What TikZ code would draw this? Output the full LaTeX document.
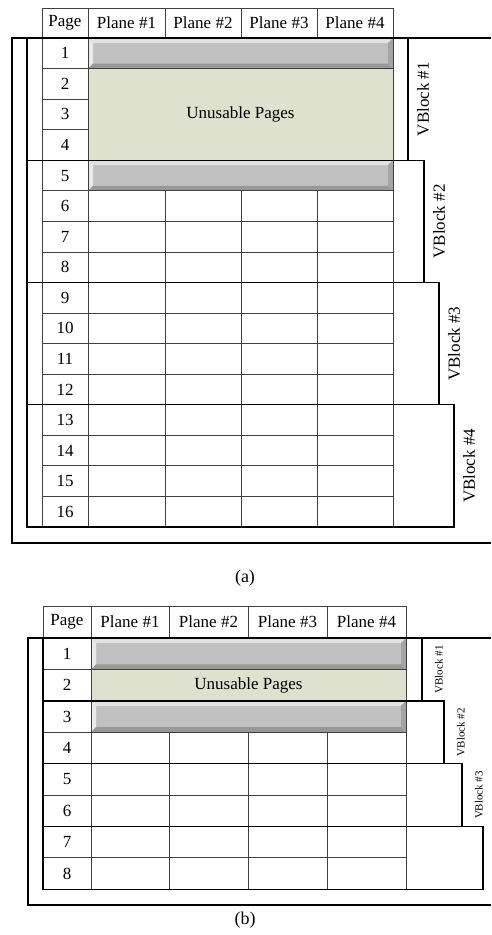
\documentclass[tikz,border=0pt]{standalone}
\usepackage{fontspec}
\setmainfont{Liberation Serif}
\usepackage{tikz}
\usetikzlibrary{positioning}
\definecolor{unusable}{RGB}{221,225,205}
\definecolor{barmid}{RGB}{192,192,192}
\definecolor{barlight}{RGB}{226,226,226}
\definecolor{barlighter}{RGB}{234,234,234}
\definecolor{bardark}{RGB}{152,152,152}
\definecolor{bardarker}{RGB}{164,164,164}
\tikzset{
  gridline/.style={
    line width=0.8pt,
    draw=black!75
  },
  blockbox/.style={
    line width=1.4pt,
    draw=black
  },
  outerbox/.style={
    line width=1.2pt,
    draw=black
  },
  cell/.style={
    font=\fontsize{17}{20}\selectfont,
    inner sep=0pt
  },
  vlabel/.style={
    font=\fontsize{17}{20}\selectfont,
    rotate=90,
    inner sep=0pt
  },
  vlabelsmall/.style={
    font=\fontsize{11}{13}\selectfont,
    rotate=90,
    inner sep=0pt
  },
  caption/.style={
    font=\fontsize{18}{20}\selectfont,
    inner sep=0pt
  }
}
% bevelled grey bar: x1, y1, x2, y2
\newcommand{\bevelbar}[4]{%
  \fill[barmid] (#1,#2) rectangle (#3,#4);
  \fill[barlight] (#1,#2) -- (#3,#2) -- (#3-5,#2+5) -- (#1+5,#2+5) -- cycle;
  \fill[barlighter] (#1,#2) -- (#1+5,#2+5) -- (#1+5,#4-5) -- (#1,#4) -- cycle;
  \fill[bardark] (#1,#4) -- (#3,#4) -- (#3-5,#4-5) -- (#1+5,#4-5) -- cycle;
  \fill[bardarker] (#3,#2) -- (#3,#4) -- (#3-5,#4-5) -- (#3-5,#2+5) -- cycle;
}

\begin{document}
\begin{tikzpicture}[x=1pt,y=-1pt]
        \useasboundingbox (0,0) rectangle (491,935);
        % ---------- (a) ----------
        \bevelbar{88}{38}{393}{68.56}
        \fill[unusable] (88,68.56) rectangle (393,160.24);
        \bevelbar{88}{160.24}{393}{190.8}
        \draw[gridline] (42,8) rectangle (393,38);
        \foreach \x in {88,165,241,317} \draw[gridline] (\x,8) -- (\x,38);
        \draw[gridline] (42,38) -- (42,527);
        \draw[gridline] (88,38) -- (88,527);
        \draw[gridline] (393,38) -- (393,527);
        \foreach \i in {1,...,15} \draw[gridline] (42,{38+30.56*\i}) -- (88,{38+30.56*\i});
        \draw[gridline] (88,68.56) -- (393,68.56);
        \foreach \i in {5,...,15} \draw[gridline] (88,{38+30.56*\i}) -- (393,{38+30.56*\i});
        \foreach \x in {165,241,317} \draw[gridline] (\x,190.8) -- (\x,527);
        \foreach \k/\r [count=\n] in {0/408,1/424,2/439,3/454} {
          \draw[blockbox] (27,{38+122.24*\k}) rectangle (\r,{38+122.24*(\k+1)});
          \node[vlabel] (avb\n) at (\r+15,{38+122.24*(\k+0.5)}) {VBlock \#\n};
        }
        \draw[outerbox] (491,38) -- (12,38) -- (12,543) -- (491,543);
        \node[cell] (apage) at (65,23) {Page};
        \foreach \c [count=\n] in {126.5,203,279,355} \node[cell] (aplane\n) at (\c,23) {Plane \#\n};
        \foreach \i in {1,...,16} \node[cell] (arow\i) at (65,{38+30.56*(\i-0.5)}) {\i};
        \node[cell] (aunusable) at (240.5,114.4) {Unusable Pages};
        \node[caption] (capa) at (245,578) {(a)};
        % ---------- (b) ----------
        \bevelbar{91}{638}{406}{669.4}
        \fill[unusable] (91,669.4) rectangle (406,700.8);
        \bevelbar{91}{700.8}{406}{732.2}
        \draw[gridline] (43,606) rectangle (406,638);
        \foreach \x in {91,169,248,327} \draw[gridline] (\x,606) -- (\x,638);
        \draw[gridline] (91,638) -- (91,889);
        \draw[gridline] (406,638) -- (406,889);
        \foreach \i in {1,...,7} \draw[gridline] (43,{638+31.4*\i}) -- (91,{638+31.4*\i});
        \draw[gridline] (91,669.4) -- (406,669.4);
        \foreach \i in {3,...,7} \draw[gridline] (91,{638+31.4*\i}) -- (406,{638+31.4*\i});
        \foreach \x in {169,248,327} \draw[gridline] (\x,732.2) -- (\x,889);
        \foreach \k/\r in {0/422,1/444,2/462,3/483}
          \draw[blockbox] (43,{638+62.8*\k}) rectangle (\r,{638+62.8*(\k+1)});
        % label for VBlock #4 falls off the right edge
        \foreach \k/\r [count=\n] in {0/422,1/444,2/462}
          \node[vlabelsmall] (bvb\n) at (\r+17,{638+62.8*(\k+0.5)}) {VBlock \#\n};
        \draw[outerbox] (491,638) -- (28,638) -- (28,905) -- (491,905);
        \node[cell] (bpage) at (67,622) {Page};
        \foreach \c [count=\n] in {130,208.5,287.5,366.5} \node[cell] (bplane\n) at (\c,622) {Plane \#\n};
        \foreach \i in {1,...,8} \node[cell] (brow\i) at (67,{638+31.4*(\i-0.5)}) {\i};
        \node[cell] (bunusable) at (248.5,685.1) {Unusable Pages};
        \node[caption] (capb) at (245,920) {(b)};
\end{tikzpicture}
\end{document}
